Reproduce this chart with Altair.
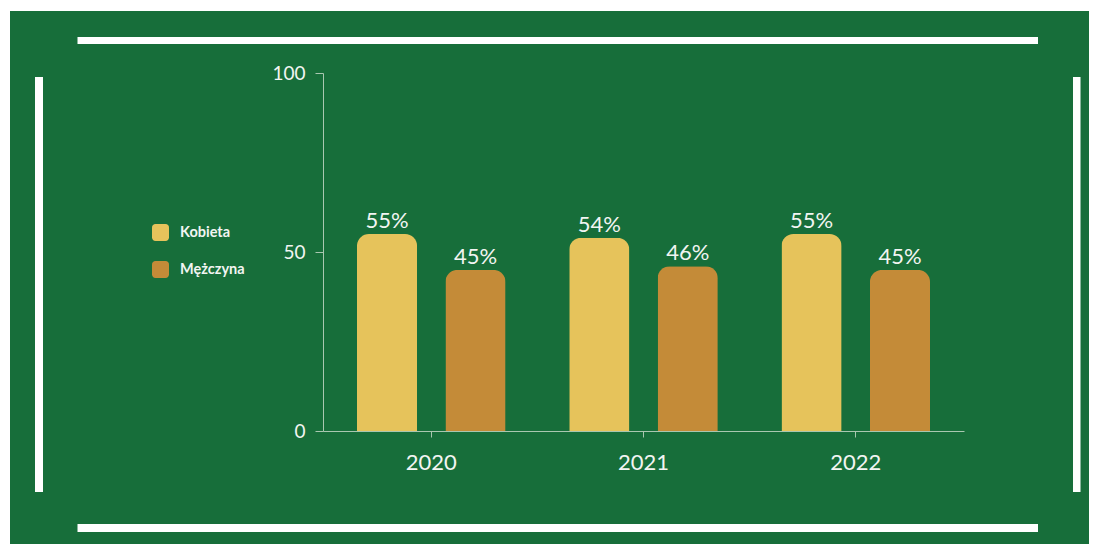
import altair as alt
import pandas as pd

# ---- data ----
years = ["2020", "2021", "2022"]
kobieta = [55, 54, 55]
mezczyzna = [45, 46, 45]
series_names = ["Kobieta", "Mężczyna"]
series_colors = ["#E6C35B", "#C48B38"]
y_ticks = [0, 50, 100]

rows = []
for i, yr in enumerate(years):
    rows.append({"year": yr, "sex": series_names[0], "value": kobieta[i]})
    rows.append({"year": yr, "sex": series_names[1], "value": mezczyzna[i]})
df = pd.DataFrame(rows)
df["label"] = df["value"].astype(str) + "%"

# ---- layout / style ----
GREEN = "#176E3A"
AX = "#A9C7B0"
TXT = "#F2F5F2"
FONT = "Lato"
TOTAL_W, TOTAL_H = 1081, 536
PL, PT = 315, 65
PW, PH = 641, 358
PR = TOTAL_W - PL - PW
PB = TOTAL_H - PT - PH

one = alt.Data(values=[{}])

bg = alt.Chart(one).mark_rect(color=GREEN).encode(
    x=alt.value(-313), x2=alt.value(TOTAL_W - PL),
    y=alt.value(-62), y2=alt.value(TOTAL_H - PT)
)

def frame(x1, x2, y1, y2):
    return alt.Chart(one).mark_rect(color="white").encode(
        x=alt.value(x1), x2=alt.value(x2), y=alt.value(y1), y2=alt.value(y2)
    )

frames = [
    frame(-245.5, 715, -36, -29),
    frame(-245.5, 715, 451, 459),
    frame(-288, -280, 4, 419),
    frame(750, 757.5, 4, 419),
]

rounded = ("M-1,-0.6A0.4,0.4,0,0,1,-0.6,-1L0.6,-1A0.4,0.4,0,0,1,1,-0.6"
           "L1,0.6A0.4,0.4,0,0,1,0.6,1L-0.6,1A0.4,0.4,0,0,1,-1,0.6Z")

x_enc = alt.X(
    "year:N", sort=years,
    scale=alt.Scale(paddingInner=0.3, paddingOuter=0.16),
    axis=alt.Axis(title=None, labelAngle=0, labelFontSize=22, labelColor=TXT,
                  labelFont=FONT, domainColor=AX, tickColor=AX, tickSize=6,
                  labelPadding=15, zindex=1),
)
xo_enc = alt.XOffset("sex:N", sort=series_names,
                     scale=alt.Scale(paddingInner=0.32, paddingOuter=0))
y_enc = alt.Y(
    "value:Q", scale=alt.Scale(domain=[0, 100], nice=False),
    axis=alt.Axis(values=y_ticks, grid=False, title=None, labelFontSize=19,
                  labelColor=TXT, labelFont=FONT, domainColor=AX, tickColor=AX,
                  tickSize=8, labelPadding=10, zindex=1),
)

bars = alt.Chart(df).mark_bar(cornerRadiusTopLeft=12, cornerRadiusTopRight=12).encode(
    x=x_enc, xOffset=xo_enc, y=y_enc,
    color=alt.Color(
        "sex:N", sort=series_names,
        scale=alt.Scale(domain=series_names, range=series_colors),
        legend=alt.Legend(title=None, orient="none", legendX=-171, legendY=151,
                          symbolType=rounded, symbolSize=289, symbolStrokeWidth=0,
                          labelFont=FONT, labelFontSize=14.5, labelFontWeight="bold",
                          labelColor=TXT, labelOffset=11, rowPadding=20, zindex=1),
    ),
)

labels = alt.Chart(df).mark_text(
    baseline="alphabetic", dy=-6, fontSize=22, color=TXT, font=FONT
).encode(x=x_enc, xOffset=xo_enc, y=y_enc, text="label:N")

chart = alt.layer(bg, *frames, bars, labels).properties(
    width=PW, height=PH,
    autosize=alt.AutoSizeParams(type="none"),
    padding={"left": PL, "top": PT, "right": PR, "bottom": PB},
    background="white",
).configure_view(strokeWidth=0)

chart.save("out.html", embed_options={"renderer": "svg", "actions": False})
